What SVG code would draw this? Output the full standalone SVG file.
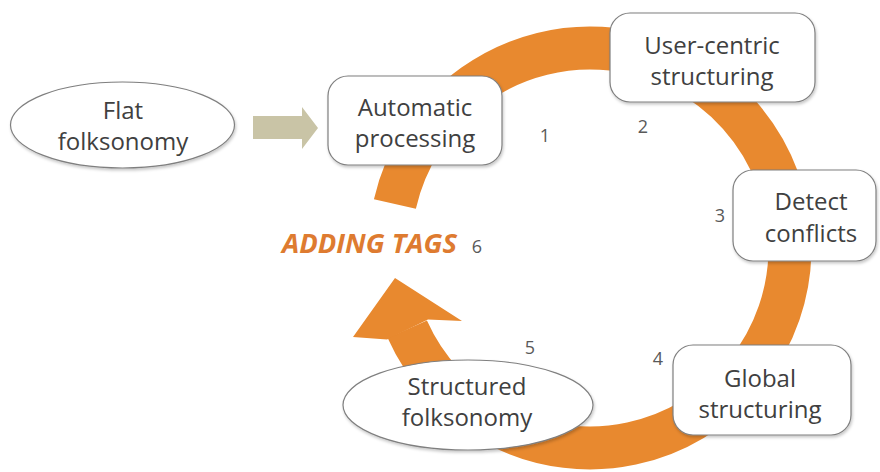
<svg xmlns="http://www.w3.org/2000/svg" width="880" height="472" viewBox="0 0 880 472">
<defs>
<style>
.node{fill:#ffffff;stroke:#7f7f7f;stroke-width:1.2;filter:url(#sh)}
.lbl{font-family:"Open Sans","Liberation Sans",sans-serif;font-size:24px;fill:#404040;text-anchor:middle}
.num{font-family:"Open Sans","Liberation Sans",sans-serif;font-size:18px;fill:#595959;text-anchor:middle}
.ring{fill:none;stroke:#E8892F;stroke-width:43}
.title{font-family:"Open Sans","Liberation Sans",sans-serif;font-size:26px;font-weight:bold;font-style:italic;fill:#DE7B30}
</style>
<filter id="sh" x="-10%" y="-10%" width="125%" height="130%">
<feDropShadow dx="1" dy="2" stdDeviation="1.5" flood-color="#000" flood-opacity="0.22"/>
</filter>
</defs>
<rect width="880" height="472" fill="#ffffff"/>
<g id="connectors">
<path class="ring" d="M 394.9 204 A 200 200 0 0 1 790 248 A 200 200 0 0 1 407.3 329.3"/>
<polygon fill="#E8892F" points="395,278 462,321 428,319.5 387,339.5 353,337"/>
<polygon fill="#C9C4A6" points="253,116 302,116 302,107 318,128 302,149 302,139 253,139"/>
</g>
<g id="flat-folksonomy">
<ellipse class="node" cx="122.5" cy="125" rx="112" ry="43"/>
<text class="lbl" x="123" y="119">Flat</text>
<text class="lbl" x="123" y="150">folksonomy</text>
</g>
<g id="automatic-processing">
<rect class="node" x="328" y="76" width="174" height="89" rx="20"/>
<text class="lbl" x="415" y="116">Automatic</text>
<text class="lbl" x="415" y="147">processing</text>
</g>
<g id="user-centric">
<rect class="node" x="610" y="13" width="205" height="89" rx="20"/>
<text class="lbl" x="712" y="54">User-centric</text>
<text class="lbl" x="712" y="85">structuring</text>
</g>
<g id="detect-conflicts">
<rect class="node" x="733" y="170" width="143" height="91" rx="20"/>
<text class="lbl" x="811" y="210">Detect</text>
<text class="lbl" x="811" y="242">conflicts</text>
</g>
<g id="global-structuring">
<rect class="node" x="673" y="345" width="178" height="90" rx="20"/>
<text class="lbl" x="760" y="387">Global</text>
<text class="lbl" x="760" y="418">structuring</text>
</g>
<g id="structured-folksonomy">
<ellipse class="node" cx="468" cy="405" rx="125" ry="45"/>
<text class="lbl" x="467" y="395">Structured</text>
<text class="lbl" x="467" y="426">folksonomy</text>
</g>
<g id="labels">
<text class="title" x="282" y="253" textLength="175" lengthAdjust="spacingAndGlyphs">ADDING TAGS</text>
<text class="num" x="545" y="142">1</text>
<text class="num" x="643" y="133">2</text>
<text class="num" x="720" y="222">3</text>
<text class="num" x="658" y="365">4</text>
<text class="num" x="530" y="354">5</text>
<text class="num" x="477" y="253">6</text>
</g>
</svg>
